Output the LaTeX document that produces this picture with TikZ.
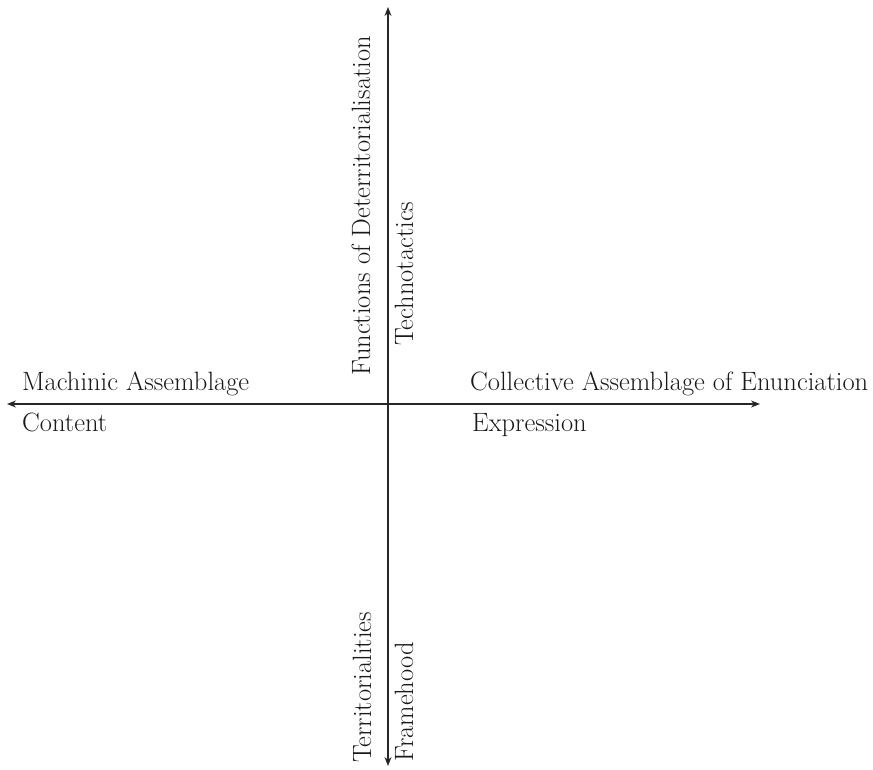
\documentclass[tikz,border=0pt]{standalone}
\usetikzlibrary{arrows.meta}
\begin{document}
\begin{tikzpicture}[x=1pt,y=-1pt,
  axis/.style={line width=1.1pt,draw=black!85,-{Stealth[length=9pt,width=7pt]}},
  lbl/.style={inner sep=0pt,text=black!90,font=\fontsize{26.5}{30}\selectfont}]
\useasboundingbox (0,0) rectangle (873,769);
\coordinate (o) at (388,404);
\coordinate (l) at (7,404);
\coordinate (r) at (760,404);
\coordinate (t) at (388,7);
\coordinate (b) at (388,766);
\draw[axis] (o) -- (l);
\draw[axis] (o) -- (r);
\draw[axis] (o) -- (t);
\draw[axis] (o) -- (b);
\node[lbl,anchor=base west] (ma) at (22,390) {Machinic Assemblage};
\node[lbl,anchor=base west] (co) at (22,431) {Content};
\node[lbl,anchor=base west] (ca) at (470,390) {Collective Assemblage of Enunciation};
\node[lbl,anchor=base west] (ex) at (472,431) {Expression};
\node[lbl,anchor=base west,rotate=90] (fd) at (370,376) {Functions of Deterritorialisation};
\node[lbl,anchor=base west,rotate=90] (te) at (413,346) {Technotactics};
\node[lbl,anchor=base west,rotate=90] (tr) at (371,763) {Territorialities};
\node[lbl,anchor=base west,rotate=90] (fr) at (413,762) {Framehood};
\end{tikzpicture}
\end{document}
